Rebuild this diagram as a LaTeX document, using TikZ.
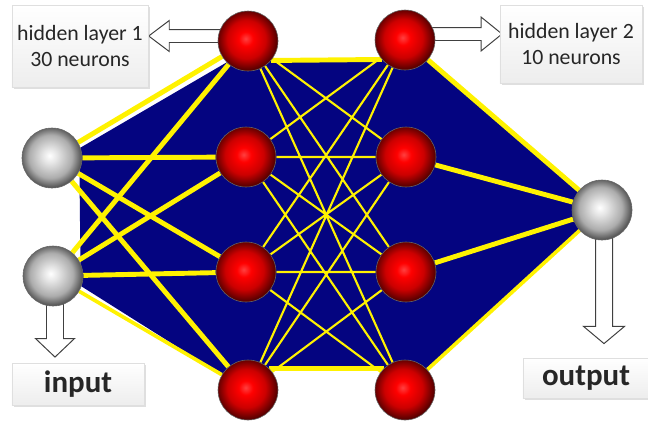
\documentclass[tikz,border=0pt]{standalone}
\usepackage{fontspec}
\setmainfont{Carlito}
\usepackage{xcolor}
\usepackage{tikz}
\usetikzlibrary{shapes.arrows,shadows,backgrounds}

\definecolor{netblue}{RGB}{4,4,128}
\definecolor{wire}{RGB}{255,242,0}
\definecolor{labeltext}{RGB}{38,38,38}

\pgfdeclareradialshading{redsphere}{\pgfpoint{-2bp}{2bp}}{color(0bp)=(red!75!white); color(6bp)=(red); color(16bp)=(red!80!black); color(25bp)=(red!35!black); color(50bp)=(red!35!black)}
\pgfdeclareradialshading{graysphere}{\pgfpoint{-2bp}{2bp}}{color(0bp)=(white); color(6bp)=(gray!20); color(18bp)=(gray!65); color(25bp)=(black!65); color(50bp)=(black!65)}

\begin{document}
\begin{tikzpicture}[x=0.025cm,y=-0.025cm,
    neuron/.style={circle,minimum size=1.5cm,inner sep=0pt,draw=black!60,line width=0.4pt},
    hidden/.style={neuron,shading=redsphere},
    outer/.style={neuron,shading=graysphere},
    fatwire/.style={draw=wire,line width=3.5pt},
    finewire/.style={draw=wire,line width=1.5pt},
    labelbox/.style={draw=gray!25,top color=white,bottom color=gray!14,
        drop shadow={shadow xshift=1.5pt,shadow yshift=-1.5pt,opacity=0.25},
        text=labeltext,align=center,inner sep=0pt},
    blockarrow/.style={single arrow,draw=black!75,fill=white,line width=0.7pt}]
\useasboundingbox (0,0) rectangle (648,423);

    % neurons
    \node[outer] (x1) at (52,158) {};
    \node[outer] (x2) at (53,276) {};
    \node[hidden] (h1) at (248,41) {};
    \node[hidden] (h2) at (246,157) {};
    \node[hidden] (h3) at (246,272) {};
    \node[hidden] (h4) at (248,390) {};
    \node[hidden] (g1) at (405,40) {};
    \node[hidden] (g2) at (406,157) {};
    \node[hidden] (g3) at (406,272) {};
    \node[hidden] (g4) at (405,390) {};
    \node[outer] (y1) at (602,210) {};

    % labels
    \node[labelbox,minimum width=3.4cm,minimum height=2.05cm,font=\fontsize{15.5}{19}\selectfont] (hl1) at (80,46) {hidden layer 1\\30 neurons};
    \node[labelbox,minimum width=3.55cm,minimum height=1.95cm,font=\fontsize{15.5}{19}\selectfont] (hl2) at (571,44) {hidden layer 2\\10 neurons};
    \node[labelbox,minimum width=3.3cm,minimum height=1.05cm,font=\fontsize{22}{24}\selectfont\bfseries] (inp) at (78,384) {input};
    \node[labelbox,minimum width=3.15cm,minimum height=1cm,font=\fontsize{22}{24}\selectfont\bfseries] (outp) at (586,378) {output};

\begin{scope}[on background layer]
    % the net area
    \fill[netblue] (x1.20) -- (h1.225) -- (h1.-40) -- (g1.220) -- (g1.-40) -- (y1.140)
        -- (y1.220) -- (g4.40) -- (g4.135) -- (h4.45) -- (h4.150) -- (x2.-20)
        -- (x2.25) -- (x1.-25) -- cycle;

    % draw the wires
    \draw[fatwire] (x1) -- (h1);
    \draw[fatwire] (x1) -- (h2);
    \draw[fatwire] (x1) -- (h3);
    \draw[fatwire] (x1) -- (h4);
    \draw[fatwire] (x2) -- (h1);
    \draw[fatwire] (x2) -- (h2);
    \draw[fatwire] (x2) -- (h3);
    \draw[fatwire,line width=2.6pt] (x2) -- (h4);

    \draw[fatwire] (h1.-40) -- (g1.220);
    \draw[fatwire] (h4.45) -- (g4.135);
    \draw[finewire] (h1) -- (g2) (h1) -- (g3) (h1) -- (g4)
        (h2) -- (g1) (h2) -- (g2) (h2) -- (g3) (h2) -- (g4)
        (h3) -- (g1) (h3) -- (g2) (h3) -- (g3) (h3) -- (g4)
        (h4) -- (g1) (h4) -- (g2) (h4) -- (g3);

    \draw[fatwire] (g1) -- (y1);
    \draw[fatwire] (g2) -- (y1);
    \draw[fatwire] (g3) -- (y1);
    \draw[fatwire,line width=2.6pt] (g4) -- (y1);

    % draw the arrows
    \node[blockarrow,shape border rotate=180,inner sep=0.15cm,minimum height=1.8cm,
        single arrow head extend=0.225cm,single arrow tip angle=74] (a1) at (189,36) {};
    \node[blockarrow,inner sep=0.15cm,minimum height=1.85cm,
        single arrow head extend=0.26cm,single arrow tip angle=78] (a2) at (461,34) {};
    \node[blockarrow,shape border rotate=270,inner sep=0.2cm,minimum height=1.45cm,
        single arrow head extend=0.275cm,single arrow tip angle=93] (a3) at (55,324) {};
    \node[blockarrow,shape border rotate=270,inner sep=0.2cm,minimum height=2.75cm,
        single arrow head extend=0.3cm,single arrow tip angle=100] (a4) at (604,285) {};
\end{scope}

\end{tikzpicture}
\end{document}
